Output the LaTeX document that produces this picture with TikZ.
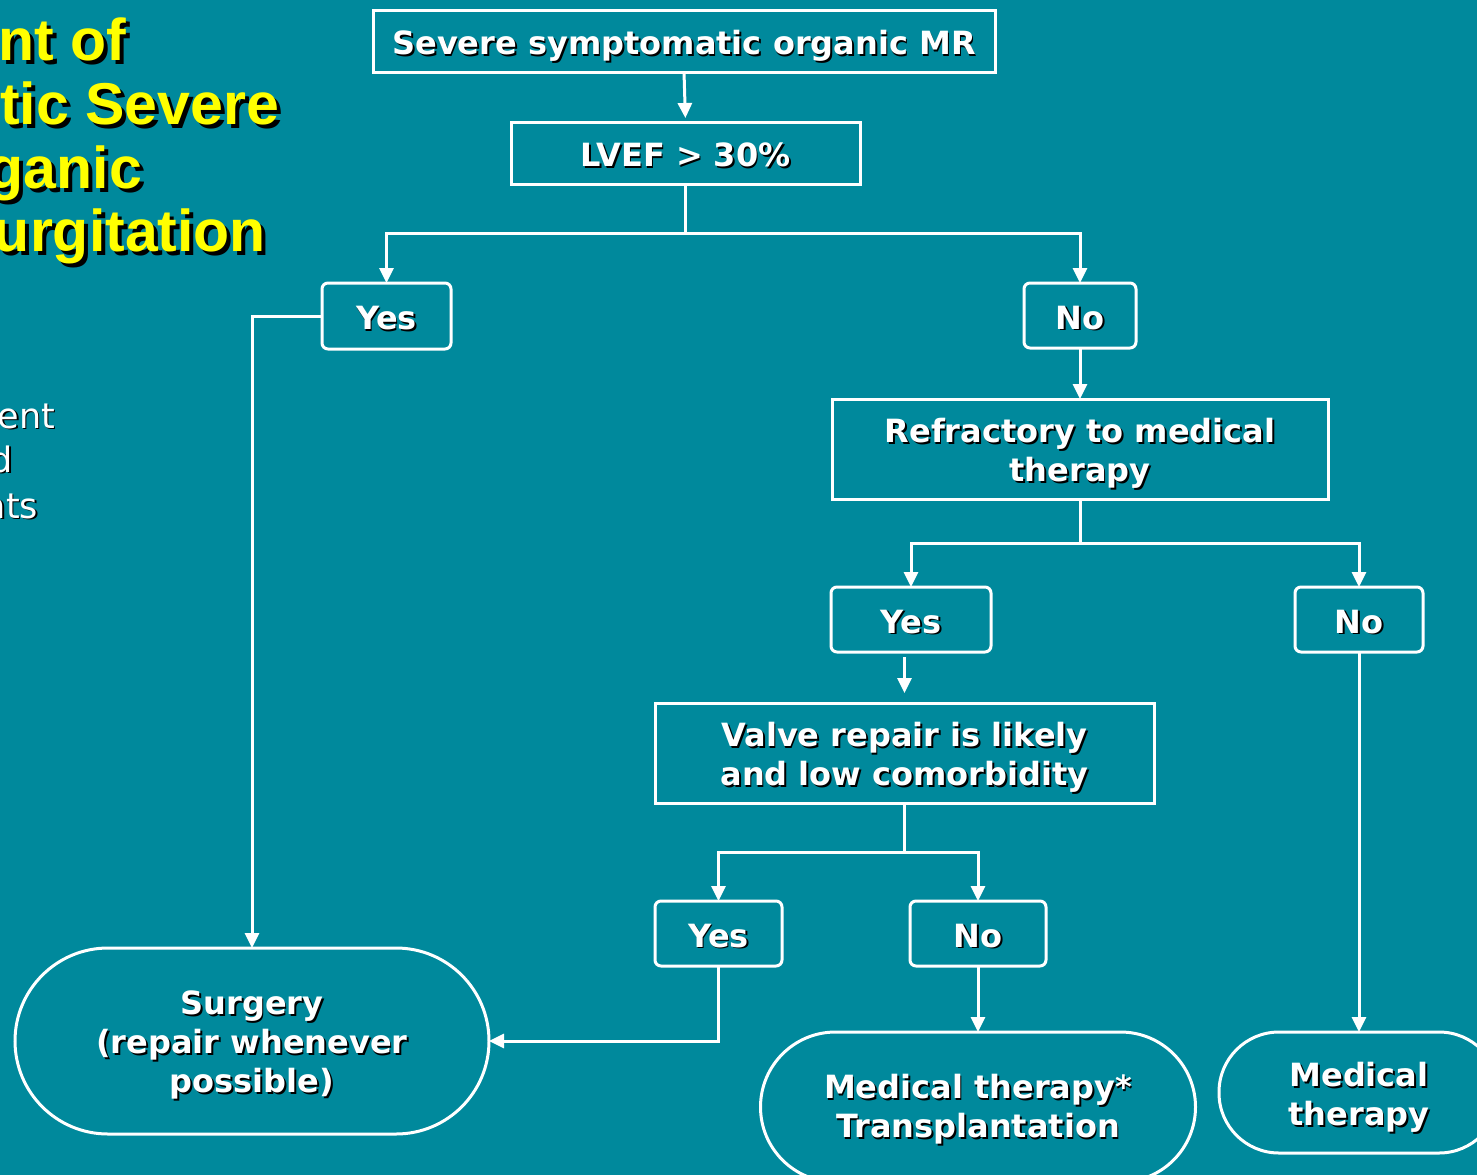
\documentclass[tikz,border=0pt]{standalone}
\usepackage{fontspec}
\setmainfont{DejaVu Sans}
\newfontfamily\titlefont{Liberation Sans}
\usetikzlibrary{arrows.meta,calc}
\definecolor{slidebg}{RGB}{0,137,156}
\definecolor{titleyellow}{RGB}{255,255,0}
% text with a drop shadow, lowered by the optional amount while keeping its box
\newcommand\shd[2][3pt]{\leavevmode\raisebox{-#1}[\height][\depth]{\rlap{\kern1.7pt\raisebox{-1.7pt}{\color{black}#2}}#2}}
\newcommand\tshd[1]{\leavevmode\rlap{\kern4pt\raisebox{-4pt}{\color{black}#1}}#1}
\begin{document}
\begin{tikzpicture}[x=1pt,y=-1pt,
  every node/.style={inner sep=0pt, outer sep=0pt},
  body/.style={text=white, font=\fontsize{32}{39}\selectfont\bfseries, align=center},
  sqbox/.style={body, draw=white, line width=3pt},
  ynbox/.style={body, draw=white, line width=3pt, rounded corners=6pt},
  stadium/.style={body, draw=white, line width=3pt},
  link/.style={draw=white, line width=3pt},
  arr/.style={link, -{Triangle[length=15pt,width=14pt]}},
  ttl/.style={anchor=base east, text=titleyellow, font=\titlefont\fontsize{59}{64}\selectfont\bfseries},
  side/.style={anchor=base east, text=white, font=\fontsize{35}{45}\selectfont}
]
\useasboundingbox[fill=slidebg] (0,0) rectangle (1477,1175);

% heading, cut off by the left edge
\node[ttl] (t1) at (126,60) {\tshd{nt of}};
\node[ttl] (t2) at (279,124) {\tshd{tic Severe}};
\node[ttl] (t3) at (142,188) {\tshd{ganic}};
\node[ttl] (t4) at (266,251) {\tshd{urgitation}};

% bullet text, cut off by the left edge
\node[side] (s1) at (55,428) {\shd[0pt]{ent}};
\node[side] (s2) at (13,472) {\shd[0pt]{d}};
\node[side] (s3) at (38,518) {\shd[0pt]{nts}};

% decision boxes
\node[sqbox, minimum width=622, minimum height=62] (top) at (684,41) {\shd[6pt]{Severe symptomatic organic MR}};
\node[sqbox, minimum width=349, minimum height=62] (lvef) at (685.5,153) {\shd{LVEF > 30\%}};
\node[ynbox, minimum width=129, minimum height=66] (yes1) at (386.5,316) {\shd{Yes}};
\node[ynbox, minimum width=112, minimum height=65] (no1) at (1080,315.5) {\shd{No}};
\node[sqbox, minimum width=496, minimum height=100] (refr) at (1080,449) {\shd[5pt]{Refractory to medical}\\\shd[5pt]{therapy}};
\node[ynbox, minimum width=160, minimum height=65] (yes2) at (911,619.5) {\shd{Yes}};
\node[ynbox, minimum width=128, minimum height=65] (no2) at (1359,619.5) {\shd{No}};
\node[sqbox, minimum width=499, minimum height=100] (valve) at (904.5,753) {\shd[5pt]{Valve repair is likely}\\\shd[5pt]{and low comorbidity}};
\node[ynbox, minimum width=127, minimum height=65] (yes3) at (718.5,933.5) {\shd{Yes}};
\node[ynbox, minimum width=136, minimum height=65] (no3) at (978,933.5) {\shd{No}};

% outcomes
\node[stadium, rounded corners=93pt, minimum width=474, minimum height=186] (surg) at (252,1041) {\shd[5pt]{Surgery}\\\shd[5pt]{(repair whenever}\\\shd[5pt]{possible)}};
\node[stadium, rounded corners=75pt, minimum width=435, minimum height=150] (medt) at (978,1107) {\shd{Medical therapy*}\\\shd{Transplantation}};
\node[stadium, rounded corners=60pt, minimum width=280, minimum height=121] (medr) at (1359,1092.5) {\shd[6pt]{Medical}\\\shd[6pt]{therapy}};

% connectors
\draw[arr, shorten >=4pt] (top.south) -- (lvef.north);
\coordinate (j1) at ($(lvef.south)+(0,49)$);
\draw[link] (lvef.south) -- (j1);
\draw[arr] (j1) -| (yes1.north);
\draw[arr] (j1) -| (no1.north);
\draw[arr] (yes1.west) -| (surg.north);
\draw[arr] (no1.south) -- (refr.north);
\coordinate (j2) at ($(refr.south)+(0,44)$);
\draw[link] (refr.south) -- (j2);
\draw[arr] (j2) -| (yes2.north);
\draw[arr] (j2) -| (no2.north);
\draw[arr, shorten <=5pt, shorten >=10pt] (valve.north |- yes2.south) -- (valve.north);
\draw[arr] (no2.south) -- (medr.north);
\coordinate (j3) at ($(valve.south)+(0,49)$);
\draw[link] (valve.south) -- (j3);
\draw[arr] (j3) -| (yes3.north);
\draw[arr] (j3) -| (no3.north);
\draw[arr] (yes3.south) |- (surg.east);
\draw[arr] (no3.south) -- (medt.north);
\end{tikzpicture}
\end{document}
